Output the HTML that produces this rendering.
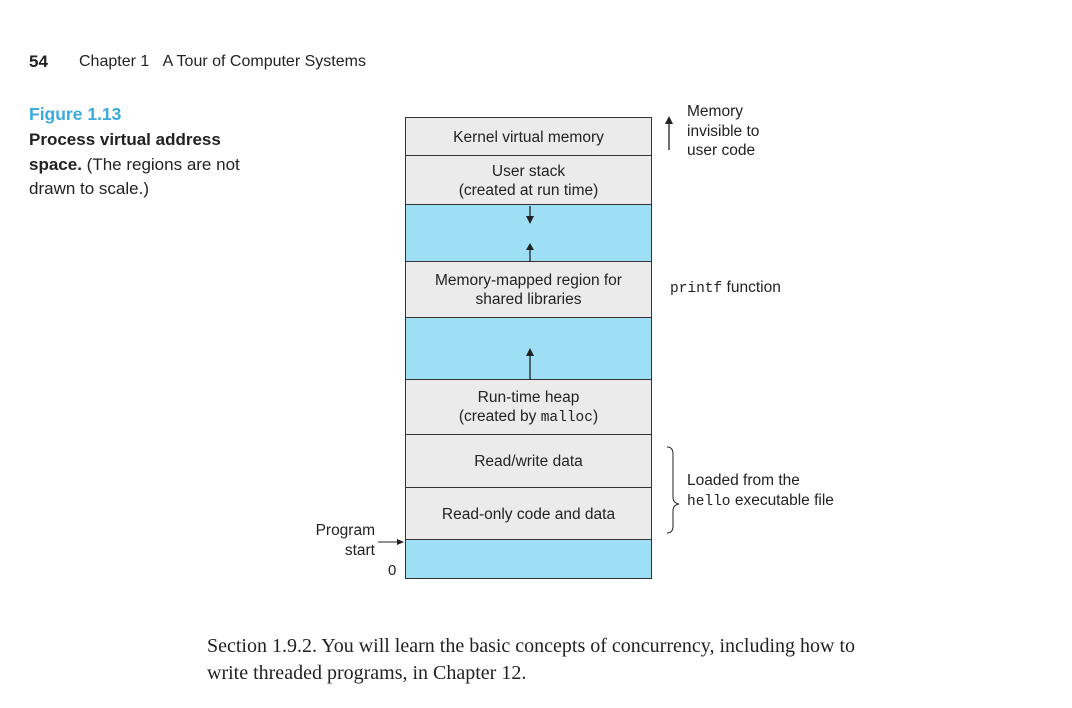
<!DOCTYPE html>
<html><head><meta charset="utf-8"><style>
body{margin:0;width:1072px;height:708px;background:#fff;position:relative;font-family:"Liberation Sans",sans-serif;color:#222;overflow:hidden}
.a{position:absolute;white-space:nowrap}
.r{position:absolute;left:405px;width:247px;border:1.5px solid #333;box-sizing:border-box;text-align:center;font-size:15.5px;line-height:19px;display:flex;flex-direction:column;justify-content:center}
.g{background:#ebebeb}.b{background:#9edff5}
.m{font-family:"Liberation Mono",monospace;font-size:14.5px}
</style></head><body>
<div class="a" style="left:29px;top:52px;font-size:17px;font-weight:bold">54</div>
<div class="a" style="left:79px;top:53px;font-size:16px">Chapter 1&nbsp;&nbsp;&nbsp;A Tour of Computer Systems</div>
<div class="a" style="left:29px;top:104px;font-size:17.5px;font-weight:bold;color:#3aaae2">Figure 1.13</div>
<div class="a" style="left:29px;top:128px;font-size:17px;line-height:24.5px"><b>Process virtual address</b><br><b>space.</b> (The regions are not<br>drawn to scale.)</div>

<div class="r g" style="top:117px;height:40px">Kernel virtual memory</div>
<div class="r g" style="top:155px;height:51px">User stack<br>(created at run time)</div>
<div class="r b" style="top:204px;height:59px"></div>
<div class="r g" style="top:261px;height:58px">Memory-mapped region for<br>shared libraries</div>
<div class="r b" style="top:317px;height:64px"></div>
<div class="r g" style="top:379px;height:57px">Run-time heap<br><span>(created by <span class="m">malloc</span>)</span></div>
<div class="r g" style="top:434px;height:55px">Read/write data</div>
<div class="r g" style="top:487px;height:54px">Read-only code and data</div>
<div class="r b" style="top:539px;height:40px"></div>

<svg class="a" style="left:0;top:0" width="1072" height="708">
<g stroke="#222" stroke-width="1.3" fill="#222">
<line x1="530" y1="206" x2="530" y2="218"/><polygon points="526,216 534,216 530,224" stroke="none"/>
<line x1="530" y1="250" x2="530" y2="262"/><polygon points="526,250 534,250 530,243" stroke="none"/>
<line x1="530" y1="355" x2="530" y2="380"/><polygon points="526,356 534,356 530,348" stroke="none"/>
<line x1="669" y1="122" x2="669" y2="150"/><polygon points="665,124 673,124 669,116" stroke="none"/>
<line x1="378" y1="542" x2="398" y2="542" stroke-width="1"/><polygon points="397,539 404,542 397,545" stroke="none"/>
<path d="M667,447 Q673,447 673,454 L673,497 Q673,503 679,504 Q673,505 673,511 L673,526 Q673,533 667,533" fill="none" stroke-width="1"/>
</g></svg>
<div class="a" style="left:687px;top:102px;font-size:15.5px;line-height:19.5px">Memory<br>invisible to<br>user code</div>
<div class="a" style="left:670px;top:279px;font-size:15.5px"><span class="m">printf</span> function</div>
<div class="a" style="left:687px;top:471px;font-size:15.5px;line-height:19.5px">Loaded from the<br><span class="m">hello</span> executable file</div>
<div class="a" style="left:309px;top:521px;font-size:15.5px;line-height:20px;text-align:right;width:66px">Program<br>start</div>
<div class="a" style="left:388px;top:562px;font-size:15px">0</div>
<div class="a" style="left:207px;top:633px;font-family:'Liberation Serif',serif;font-size:20px;line-height:27px">Section 1.9.2. You will learn the basic concepts of concurrency, including how to<br>write threaded programs, in Chapter 12.</div>
</body></html>
